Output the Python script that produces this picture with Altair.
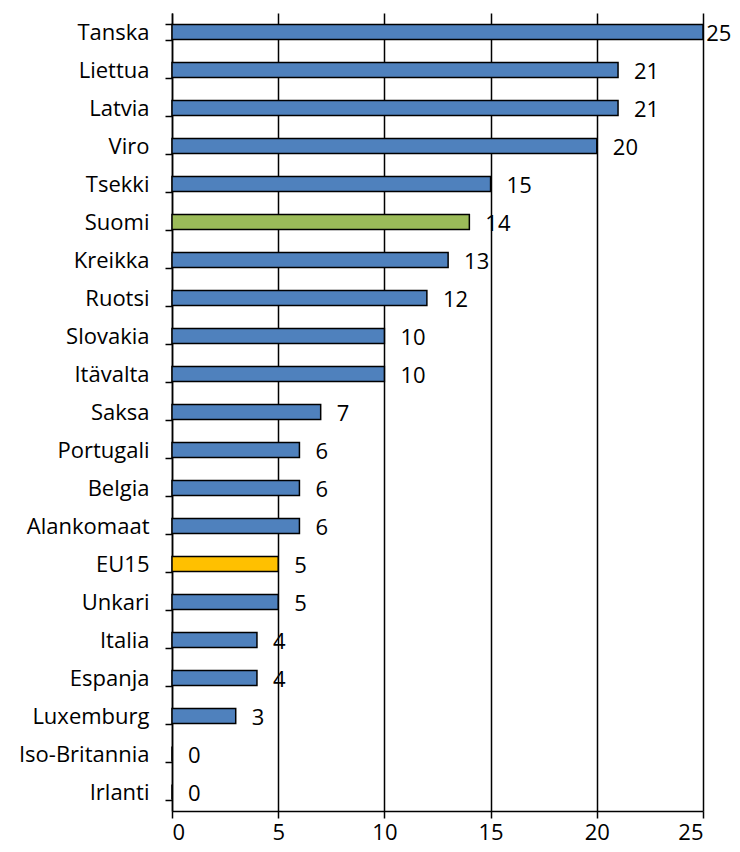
import altair as alt
import pandas as pd

countries = ["Tanska", "Liettua", "Latvia", "Viro", "Tsekki", "Suomi", "Kreikka",
             "Ruotsi", "Slovakia", "Itävalta", "Saksa", "Portugali", "Belgia",
             "Alankomaat", "EU15", "Unkari", "Italia", "Espanja", "Luxemburg",
             "Iso-Britannia", "Irlanti"]
values = [25, 21, 21, 20, 15, 14, 13, 12, 10, 10, 7, 6, 6, 6, 5, 5, 4, 4, 3, 0, 0]
groups = ["muu", "muu", "muu", "muu", "muu", "Suomi", "muu", "muu", "muu", "muu",
          "muu", "muu", "muu", "muu", "EU15", "muu", "muu", "muu", "muu", "muu", "muu"]
x_ticks = [0, 5, 10, 15, 20, 25]

df = pd.DataFrame({"maa": countries, "arvo": values, "ryhma": groups})

FONT = "Open Sans"

y_enc = alt.Y("maa:N", sort=countries,
              scale=alt.Scale(paddingInner=0.6, paddingOuter=0.3),
              axis=alt.Axis(title=None, tickBand="extent", ticks=True, tickSize=7,
                            tickColor="black", tickWidth=1.5, domainColor="black",
                            domainWidth=1.5, labelFont=FONT, labelFontSize=22,
                            labelColor="black", labelPadding=16, grid=False))

x_scale = alt.Scale(domain=[0, 25], nice=False)

bars = alt.Chart(df).mark_bar(stroke="black", strokeWidth=1.5).encode(
    x=alt.X("arvo:Q", scale=x_scale,
            axis=alt.Axis(title=None, values=x_ticks, grid=True, gridColor="black",
                          gridWidth=1.5, gridOpacity=1, tickSize=7, tickColor="black",
                          tickWidth=1.5, domainColor="black", domainWidth=1.5,
                          labelFont=FONT, labelFontSize=22, labelColor="black",
                          labelPadding=4)),
    y=y_enc,
    color=alt.Color("ryhma:N", legend=None,
                    scale=alt.Scale(domain=["muu", "Suomi", "EU15"],
                                    range=["#4F81BD", "#9BBB59", "#FFC000"])),
)

labels = alt.Chart(df).transform_calculate(
    xpos="datum.arvo >= 25 ? 24.4 : datum.arvo"
).mark_text(align="left", baseline="middle", dx=16, dy=2, font=FONT, fontSize=22,
            color="black").encode(
    x=alt.X("xpos:Q", scale=x_scale),
    y=alt.Y("maa:N", sort=countries),
    text=alt.Text("arvo:Q"),
)

chart = alt.layer(bars, labels).properties(
    width=531, height=798,
    autosize=alt.AutoSizeParams(type="none"),
    padding={"left": 164, "top": 5, "right": 29, "bottom": 39},
    background="white",
).configure_view(stroke=None)

chart.save("out.html", embed_options={"renderer": "svg", "actions": False})
